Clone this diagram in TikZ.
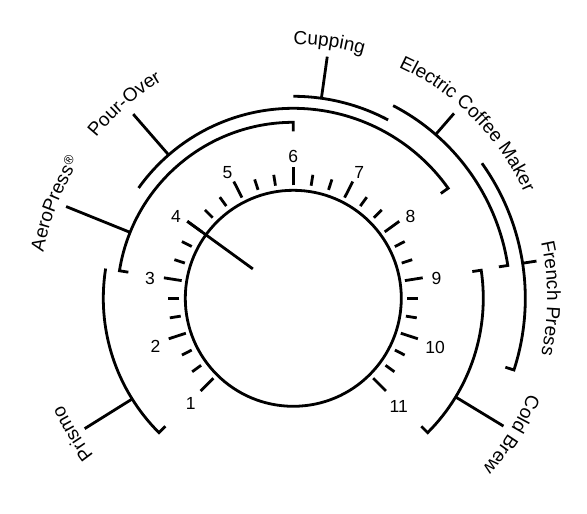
\documentclass[tikz,border=0pt]{standalone}
\usepackage{fontspec}
\setmainfont{Liberation Sans}
\usetikzlibrary{decorations.text,calc}
\newcommand\numfont{\fontsize{17.5}{17.5}\selectfont}
\newcommand\lblfont{\fontsize{19}{19}\selectfont}
\begin{document}
\begin{tikzpicture}[x=1pt,y=1pt,line width=2.8pt,line join=miter,
  num/.style={font=\numfont,inner sep=0pt},
  lbl/.style={decorate,decoration={text along path,text align=center,text={#1}}}]
\useasboundingbox (-293.3,-215.7) rectangle (293.7,298.3);
% dial
\draw (0,0) circle (108);
\foreach \i in {0,...,30}{
  \pgfmathsetmacro\a{225-9*\i}
  \pgfmathtruncatemacro\m{mod(\i,3)}
  \ifnum\m=0 \draw (\a:113) -- (\a:131); \else \draw (\a:114) -- (\a:125); \fi
}
\foreach \n in {1,...,11}{
  \pgfmathsetmacro\a{225-27*(\n-1)}
  \ifnum\n>9 \def\rr{149}\else\def\rr{145}\fi
  \node[num] (n\n) at ($(\a:\rr)+(0,-3)$) {\n};
}
% pointer
\coordinate (p0) at (144:50);
\coordinate (p1) at (144:131);
\draw (p0) -- (p1);
% arcs
\draw (171:190) arc[start angle=171,end angle=225,radius=190] -- (225:181);
\draw (90:167) -- (90:176) arc[start angle=90,end angle=171,radius=176] -- (171:167);
\draw (144.5:190) arc[start angle=144.5,end angle=35.4,radius=190] -- (35.4:181);
\draw (90:202) arc[start angle=90,end angle=62,radius=202];
\draw (62.6:217) arc[start angle=62.6,end angle=8.7,radius=217] -- (8.7:208);
\draw (35.6:232) arc[start angle=35.6,end angle=-18,radius=232] -- (-18:223);
\draw (8.5:181) -- (8.5:190) arc[start angle=8.5,end angle=-45,radius=190] -- (-45:181);
% leaders
\coordinate (prA) at (212:190);   \coordinate (prB) at (212:246);
\coordinate (aeA) at (158:176);   \coordinate (aeB) at (158:245);
\coordinate (poA) at (131:190);   \coordinate (poB) at (131:244);
\coordinate (cuA) at (82:202);    \coordinate (cuB) at (82:244);
\coordinate (elA) at (49:217);    \coordinate (elB) at (49:245);
\coordinate (frA) at (8.7:232);   \coordinate (frB) at (8.7:246);
\coordinate (cbA) at (-31.3:190); \coordinate (cbB) at (-31.3:246);
\draw (prA) -- (prB);
\draw (aeA) -- (aeB);
\draw (poA) -- (poB);
\draw (cuA) -- (cuB);
\draw (elA) -- (elB);
\draw (frA) -- (frB);
\draw (cbA) -- (cbB);
% labels
\path[lbl={|\lblfont|Prismo}] (251.5:254) arc[start angle=251.5,end angle=171.5,radius=254];
\path[lbl={|\lblfont|AeroPress{\raisebox{5pt}{\fontsize{13}{13}\selectfont ®}}}] (198.5:254) arc[start angle=198.5,end angle=118.5,radius=254];
\path[lbl={|\lblfont|Pour-Over}] (171:254) arc[start angle=171,end angle=91,radius=254];
\path[lbl={|\lblfont|Cupping}] (122:254) arc[start angle=122,end angle=42,radius=254];
\path[lbl={|\lblfont|Electric Coffee Maker}] (95:254) arc[start angle=95,end angle=-5,radius=254];
\path[lbl={|\lblfont|French Press}] (40:254) arc[start angle=40,end angle=-40,radius=254];
\path[lbl={|\lblfont|Cold Brew}] (8:254) arc[start angle=8,end angle=-72,radius=254];
\end{tikzpicture}
\end{document}
